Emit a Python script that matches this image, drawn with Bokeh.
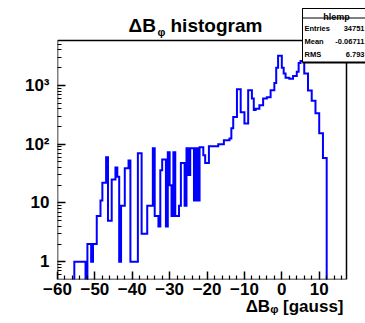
import math
from bokeh.plotting import figure
from bokeh.models import Range1d, FixedTicker, Label, BoxAnnotation, Title
from bokeh.embed import file_html
from bokeh.resources import INLINE

# ---------------- data ----------------
bin_start = -60.0
bin_width = 0.5
counts = [
    0, 0, 0, 0, 0, 0, 0, 0, 0, 1,                      # -60 .. -55
    1, 1, 1, 1, 1, 0, 2, 2, 1, 2,                      # -55 .. -50
    2, 6, 6, 11, 22, 22, 60, 5, 5, 25,                 # -50 .. -45
    25, 40, 28, 1, 9, 9, 39, 39, 53, 1,                # -45 .. -40
    1, 1, 1, 70, 70, 3, 3, 3, 9, 9,                    # -40 .. -35
    9, 85, 6, 6, 4, 36, 55, 55, 4, 73,                 # -35 .. -30
    20, 6, 73, 6, 6, 9, 48, 48, 9, 85,                 # -30 .. -25
    30, 85, 85, 11, 85, 11, 89, 89, 65, 48,            # -25 .. -20
    48, 92, 92, 92, 92, 92, 100, 100, 100, 117,        # -20 .. -15
    117, 117, 125, 187, 290, 290, 860, 860, 350, 350,  # -15 .. -10
    225, 225, 830, 830, 600, 380, 400, 400, 460, 460,  # -10 .. -5
    600, 600, 630, 630, 830, 830, 1100, 2000, 3200, 3200,  # -5 .. 0
    2000, 1600, 1350, 1350, 1300, 1300, 1450, 1450, 1700, 2400,  # 0 .. 5
    2600, 2600, 1600, 1600, 820, 820, 550, 550, 335, 335,  # 5 .. 10
    154, 154, 58, 58, 0, 0, 0, 0, 0, 0,                # 10 .. 15
    0, 0, 0, 0,                                        # 15 .. 17
]

x_view = (-60.0, 17.3)        # visible axis range
y_view = (0.5, 5800.0)
x_major = [-60, -50, -40, -30, -20, -10, 0, 10]
x_minor = [-58, -56, -54, -52, -48, -46, -44, -42, -38, -36, -34, -32,
           -28, -26, -24, -22, -18, -16, -14, -12, -8, -6, -4, -2,
           2, 4, 6, 8, 12, 14, 16]
y_major = [1, 10, 100, 1000]
y_labels = ["1", "10", "10\u00b2", "10\u00b3"]
y_minor = [0.6, 0.7, 0.8, 0.9,
           2, 3, 4, 5, 6, 7, 8, 9,
           20, 30, 40, 50, 60, 70, 80, 90,
           200, 300, 400, 500, 600, 700, 800, 900,
           2000, 3000, 4000, 5000]

title_main, title_sub, title_rest = "\u0394B", "\u03c6", "histogram"
xlabel_text = "\u0394B\u1d69 [gauss]"
stats_name = "hlemp"
stats_keys = ["Entries", "Mean", "RMS"]
stats_vals = ["34751", "-0.06711", "6.793"]

# ---------------- layout ----------------
W, H = 365, 323
VL, VT, VR, VB = 57, 40, 346, 279      # visible frame box (pixels)
FL, FT = VL, 0                          # Bokeh frame: extends to top and right edge
FW, FH = W - FL, VB - FT
FONT = "Liberation Sans"

px_per_x = (VR - VL) / (x_view[1] - x_view[0])
x_range = (x_view[0], x_view[0] + FW / px_per_x)
ly0, ly1 = math.log10(y_view[0]), math.log10(y_view[1])
per_px = (ly1 - ly0) / (VB - VT)
y_range = (y_view[0], 10 ** (ly0 + FH * per_px))

p = figure(width=W, height=H, frame_width=FW, frame_height=FH,
           min_border_left=FL, min_border_top=0, min_border_right=0,
           min_border_bottom=H - VB,
           y_axis_type="log", x_range=Range1d(*x_range), y_range=Range1d(*y_range),
           output_backend="svg", toolbar_location=None, title=None)
p.grid.visible = False
p.outline_line_color = None
p.background_fill_color = "white"
p.border_fill_color = "white"

# visible frame
p.line([x_view[0], x_view[1], x_view[1], x_view[0], x_view[0]],
       [y_view[0], y_view[0], y_view[1], y_view[1], y_view[0]],
       line_color="black", line_width=1.5)

# histogram outline
xs, ys = [], []
for i, c in enumerate(counts):
    lo = bin_start + i * bin_width
    v = c if c > 0 else 1e-3
    xs += [lo, lo + bin_width]
    ys += [v, v]
p.line(xs, ys, line_color="#0000ff", line_width=2, line_join="miter")

# axes
xa = p.xaxis[0]
xa.ticker = FixedTicker(ticks=x_major, minor_ticks=x_minor)
ya = p.yaxis[0]
ya.ticker = FixedTicker(ticks=y_major, minor_ticks=y_minor)
ya.major_label_overrides = dict(zip(y_major, y_labels))
for ax in (xa, ya):
    ax.axis_line_color = None
    ax.major_tick_in = 8
    ax.major_tick_out = 0
    ax.minor_tick_in = 4
    ax.minor_tick_out = 0
    ax.major_tick_line_width = 1.5
    ax.minor_tick_line_width = 1.2
    ax.major_label_text_font = FONT
    ax.major_label_text_font_style = "bold"
    ax.major_label_text_font_size = "17px"
    ax.major_label_text_color = "black"
xa.major_label_standoff = 3
ya.major_label_standoff = 8

# x axis title, right aligned to the visible frame edge
p.add_layout(Title(text=xlabel_text, align="right", offset=(W - VR) + 3,
                   text_font=FONT, text_font_size="17px", text_font_style="bold",
                   text_color="black", standoff=-5), "below")


def lab(text, px, py, size, align="left", style="bold"):
    p.add_layout(Label(x=px, y=py, x_units="canvas", y_units="canvas", text=text,
                       text_font=FONT, text_font_size=size, text_font_style=style,
                       text_align=align, text_baseline="alphabetic",
                       text_color="black", level="overlay"))


def box(l, r, t, b, fill="white", falpha=1.0, lcolor="black", lalpha=1.0):
    p.add_layout(BoxAnnotation(left=l, right=r, top=t, bottom=b,
                               left_units="canvas", right_units="canvas",
                               top_units="canvas", bottom_units="canvas",
                               fill_color=fill, fill_alpha=falpha,
                               line_color=lcolor, line_alpha=lalpha, line_width=1,
                               level="overlay"))


# title
lab(title_main, 128, 25, "19px")
lab(title_sub, 157, 31, "11px")
lab(title_rest, 170, 25, "19px")

# stats box
box(302, 369, 8, 62)
box(302, 369, 8, 17.5, falpha=0.0)
box(302, 369, 61, 63, fill="black", lalpha=0.0)
lab(stats_name, 336, 16, "9px", align="center")
for k, (key, val) in enumerate(zip(stats_keys, stats_vals)):
    base = 28 + 13 * k
    lab(key, 304, base, "7.5px")
    lab(val, 364, base, "7.5px", align="right")

open("out.html", "w").write(file_html(p, INLINE))
